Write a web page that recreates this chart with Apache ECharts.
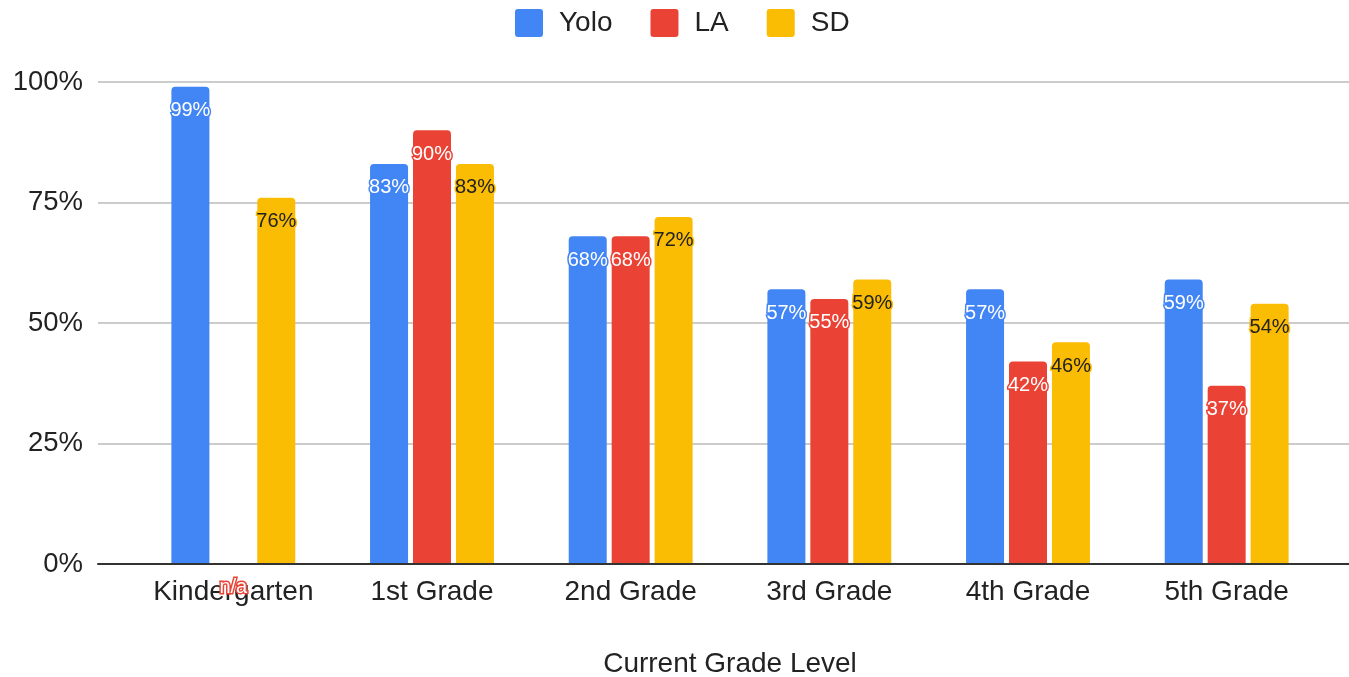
<!DOCTYPE html>
<html>
<head>
<meta charset="utf-8">
<script src="https://cdn.jsdelivr.net/npm/echarts@6/dist/echarts.min.js"></script>
<style>
  html, body { margin: 0; padding: 0; background: #fff; }
  #chart { width: 1349px; height: 677px; }
</style>
</head>
<body>
<div id="chart"></div>
<script>
// grades on the x axis
const grades = ['Kindergarten', '1st Grade', '2nd Grade', '3rd Grade', '4th Grade', '5th Grade']
const yoloVals = [99, 83, 68, 57, 57, 59]
const laVals = [null, 90, 68, 55, 42, 37]   // null = n/a
const sdVals = [76, 83, 72, 59, 46, 54]
const yTicks = [0, 25, 50, 75, 100]

const FONT = '"Liberation Sans", Arial, sans-serif'
const BLUE = '#4285F4'
const RED = '#EA4335'
const YELLOW = '#FBBC04'

// square legend icon with small rounded corners
const LEGEND_ICON = 'path://M3,0 H25 Q28,0 28,3 V25 Q28,28 25,28 H3 Q0,28 0,25 V3 Q0,0 3,0 Z'

const chart = echarts.init(document.getElementById('chart'))

const barLabel = (color, textColor) => ({
  show: true,
  position: 'insideTop',
  distance: 14,
  formatter: '{c}%',
  fontFamily: FONT,
  fontSize: 20,
  color: textColor,
  textBorderColor: color,
  textBorderWidth: 3
})

const makeSeries = (name, vals, color, textColor) => ({
  name,
  type: 'bar',
  xAxisIndex: 1,
  yAxisIndex: 1,
  barWidth: 38,
  barGap: '13%',
  itemStyle: { color, borderRadius: [4, 4, 0, 0] },
  label: barLabel(color, textColor),
  data: vals.map(v => v === null
    ? { value: 0, label: { position: 'bottom', distance: 13, formatter: 'n/a' } }
    : v)
})

const option = {
  animation: false,
  textStyle: { fontFamily: FONT },
  legend: {
    top: 4,
    left: 510,
    itemWidth: 28,
    itemHeight: 28,
    itemGap: 38,
    icon: LEGEND_ICON,
    textStyle: { fontFamily: FONT, fontSize: 28, color: '#222', padding: [0, 0, 0, 11] },
    data: ['Yolo', 'LA', 'SD']
  },
  grid: [
    { left: 98, right: 0, top: 82, bottom: 113, outerBoundsMode: 'none' },
    { left: 134, right: 23, top: 82, bottom: 113, outerBoundsMode: 'none' }
  ],
  xAxis: [
    {
      gridIndex: 0,
      type: 'category',
      data: [''],
      axisLine: { show: true, lineStyle: { color: '#333', width: 2 } },
      axisTick: { show: false },
      axisLabel: { show: false },
      z: 10
    },
    {
      gridIndex: 1,
      type: 'category',
      data: grades,
      axisLine: { show: false },
      axisTick: { show: false },
      axisLabel: { fontFamily: FONT, fontSize: 28, color: '#222', margin: 14, interval: 0, hideOverlap: false },
      name: 'Current Grade Level',
      nameLocation: 'middle',
      nameGap: 86,
      nameTextStyle: { fontFamily: FONT, fontSize: 28, color: '#222' }
    }
  ],
  yAxis: [
    {
      gridIndex: 0,
      type: 'value',
      min: yTicks[0],
      max: yTicks[yTicks.length - 1],
      interval: 25,
      axisLine: { show: false },
      axisTick: { show: false },
      axisLabel: { fontFamily: FONT, fontSize: 27.5, color: '#222', margin: 15, formatter: '{value}%' },
      splitLine: { lineStyle: { color: '#ccc', width: 2 } }
    },
    {
      gridIndex: 1,
      type: 'value',
      min: 0,
      max: 100,
      show: false,
      splitLine: { show: false }
    }
  ],
  series: [
    makeSeries('Yolo', yoloVals, BLUE, '#fff'),
    makeSeries('LA', laVals, RED, '#fff'),
    makeSeries('SD', sdVals, YELLOW, '#222')
  ]
}

chart.setOption(option)
window.addEventListener('resize', () => chart.resize())
</script>
</body>
</html>
